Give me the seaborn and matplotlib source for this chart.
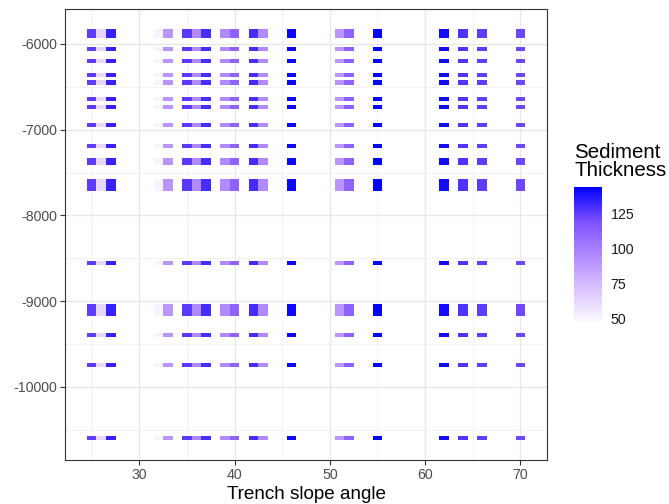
import numpy as np
import pandas as pd
import matplotlib
matplotlib.use("Agg")
import matplotlib.pyplot as plt
import seaborn as sns
from matplotlib.colors import LinearSegmentedColormap, Normalize
from matplotlib.cm import ScalarMappable
from matplotlib.ticker import MultipleLocator

# --- Data ---
slope_angles = [25, 26, 27, 32, 33, 35, 36, 37, 39, 40, 42, 43, 46, 51, 52, 55, 62, 64, 66, 70]
sed_thickness = [125, 62, 133, 50, 90, 126, 95, 130, 95, 112, 130, 95, 141, 90, 112, 143.6, 140, 128, 125, 122]
depths = [-5850, -5900, -6055, -6195, -6358, -6449, -6638, -6739, -6942, -7190,
          -7350, -7390, -7600, -7645, -7690, -8558, -9055, -9100, -9145,
          -9396, -9746, -10601]
fill_limits = (45, 143.6)

thick_by_angle = dict(zip(slope_angles, sed_thickness))
df = pd.DataFrame([(a, d) for a in slope_angles for d in depths], columns=["angle", "depth"])
df["thickness"] = df["angle"].map(thick_by_angle)

# --- Style (ggplot theme_bw look) ---
sns.set_theme(style="white")
plt.rcParams["font.family"] = ["Liberation Sans", "DejaVu Sans"]
plt.rcParams["axes.unicode_minus"] = False

TILE_W = 1.0
TILE_H = 50
# white -> blue interpolated in Lab space like ggplot's scale_fill_gradient
cmap = LinearSegmentedColormap.from_list(
    "white_blue", ["#FFFFFF", "#DCC5FF", "#B28BFF", "#7E51FF", "#0000FF"])
norm = Normalize(vmin=fill_limits[0], vmax=fill_limits[1])

fig = plt.figure(figsize=(6.69, 5.04), dpi=100)
ax = fig.add_axes([0.0972, 0.0873, 0.7204, 0.8948])

ax.bar(df["angle"], height=TILE_H, bottom=df["depth"] - TILE_H / 2, width=TILE_W,
       color=cmap(norm(df["thickness"])), linewidth=0, zorder=3)

ax.set_xlim(22.2, 72.8)
ax.set_ylim(-10855, -5592)
ax.xaxis.set_major_locator(MultipleLocator(10))
ax.xaxis.set_minor_locator(MultipleLocator(5))
ax.yaxis.set_major_locator(MultipleLocator(1000))
ax.yaxis.set_minor_locator(MultipleLocator(500))
ax.grid(which="major", color="#E8E8E8", linewidth=1.0, zorder=0)
ax.grid(which="minor", color="#F0F0F0", linewidth=0.6, zorder=0)
ax.set_axisbelow(True)
for s in ax.spines.values():
    s.set_color("#333333")
    s.set_linewidth(0.8)

ax.tick_params(which="major", direction="out", length=3.5, width=0.8, color="#333333",
               labelsize=10.2, labelcolor="#4D4D4D", left=True, bottom=True, pad=2)
ax.tick_params(which="minor", length=0)
ax.set_xlabel("Trench slope angle", fontsize=13.6, color="black", labelpad=3)
ax.set_ylabel("")

# --- Colourbar legend ---
cax = fig.add_axes([0.858, 0.355, 0.042, 0.274])
cb = fig.colorbar(ScalarMappable(norm=norm, cmap=cmap), cax=cax, ticks=[50, 75, 100, 125])
cb.outline.set_visible(False)
cax.tick_params(direction="in", length=5, width=0.8, color="white",
                left=True, right=True, labelsize=10.2, labelcolor="#1A1A1A", pad=6)
fig.text(0.858, 1 - 143 / 504, "Sediment\nThickness", ha="left", va="top",
         fontsize=14.8, color="black", linespacing=0.92)

fig.savefig("out.png", dpi=100)
